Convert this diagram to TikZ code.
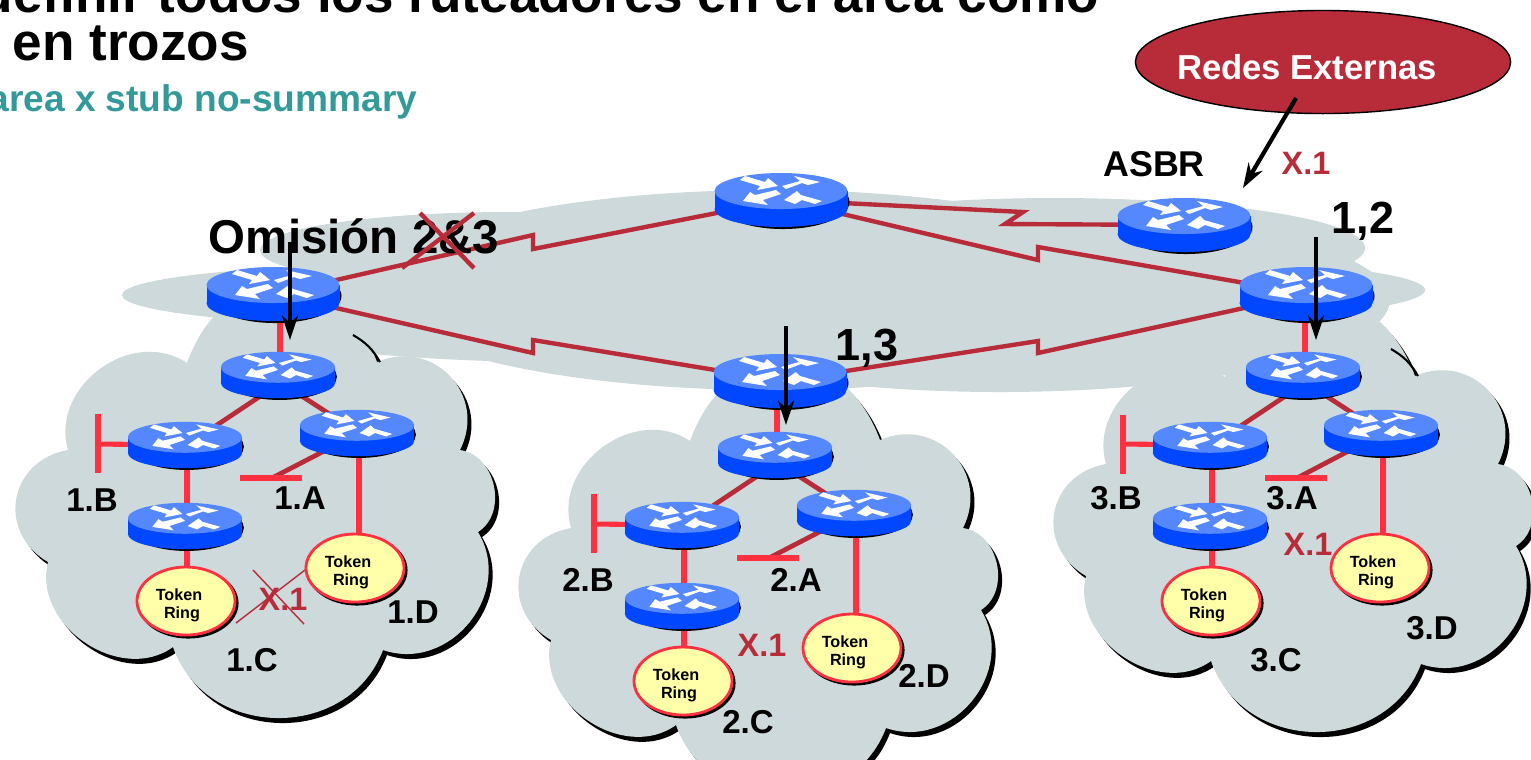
\documentclass[tikz,border=0pt]{standalone}
\usepackage{fontspec}
\setmainfont{Liberation Sans}
\usetikzlibrary{arrows.meta,shapes.geometric,shadows,backgrounds}

\definecolor{areagray}{HTML}{CED9DB}
\definecolor{serialred}{HTML}{B82C3A}
\definecolor{lanred}{HTML}{FF3040}
\definecolor{routertop}{HTML}{5588FF}
\definecolor{routerside}{HTML}{0047FF}
\definecolor{ringyellow}{HTML}{FFFFAA}
\definecolor{stubteal}{HTML}{339999}

% one router: name, x, y, size
\newcommand{\router}[4]{
  \node[routerspot] (#1) at (#2,#3) {};
  \begin{scope}[shift={(#2-2,#3)},scale=#4]
    \fill[black] (2,2) ellipse [x radius=66.5,y radius=27];
    \fill[routerside] (-66.5,-9) rectangle (66.5,9);
    \fill[routerside] (0,9) ellipse [x radius=66.5,y radius=18];
    \fill[routertop] (0,-9) ellipse [x radius=66.5,y radius=18];
    \begin{scope}[shift={(0,-9)}]
      \fill[white] (-41,-11) -- (-36,-15) -- (-16,-9) -- (-13,-13) -- (-3,-5) -- (-24,-1) -- (-21,-5) -- cycle;
      \fill[white] (1,-5) -- (19,-10) -- (13,-15) -- (39,-9) -- (27,-6) -- (21,-8) -- (5,-2) -- cycle;
      \fill[white] (-38,10) -- (-31,1) -- (-26,4) -- (-5,-1) -- (0,3) -- (-18,9) -- (-13,14) -- cycle;
      \fill[white] (3,9) -- (16,0) -- (20,4) -- (41,10) -- (34,13) -- (21,9) -- (14,13) -- cycle;
    \end{scope}
  \end{scope}
}

% outline of an area, taken at the position of the first one
\newcommand{\cloudpath}{
  (187,363) to[lobe=1.5] (377,362) to[lobe=1.3] (460,450) to[lobe=1.1] (478,532)
  to[lobe=1.2] (383,650) to[lobe=1.2] (173,647) to[lobe=1.1] (48,562)
  to[lobe=1.35] (68,450) to[lobe=1.15] (187,363) -- cycle
}

\begin{document}
\begin{tikzpicture}[x=0.01cm,y=-0.01cm]

\tikzset{lobe/.style = {bend left=70,looseness=#1}}
\tikzset{routerspot/.style = {shape=rectangle,inner sep=0pt,minimum width=1.1cm,minimum height=0.45cm}}
\tikzset{ring/.style = {shape=ellipse,inner sep=0pt,minimum width=0.98cm,minimum height=0.68cm,draw=lanred,line width=0.8pt,fill=ringyellow,align=center,font=\bfseries\fontsize{4.6}{5.2}\selectfont,copy shadow={shadow xshift=0.6pt,shadow yshift=-0.6pt,draw=black,fill=black}}}
\tikzset{serial/.style = {draw=serialred,line width=1.25pt}}
\tikzset{trunk/.style = {draw=serialred,line width=1.35pt}}
\tikzset{lan/.style = {draw=lanred,line width=1.45pt}}
\tikzset{netarrow/.style = {-{Stealth[length=7pt,width=4.6pt]},line width=1.2pt}}
\tikzset{arealabel/.style = {inner sep=0pt,font=\bfseries\fontsize{9.4}{10}\selectfont}}
\tikzset{biglabel/.style = {inner sep=0pt,font=\bfseries\fontsize{13.5}{14}\selectfont}}
\tikzset{xlabel/.style = {inner sep=0pt,text=serialred,font=\bfseries\fontsize{9.2}{10}\selectfont}}
\newcommand{\ringtext}{\rule{0pt}{5.6pt}Token\hspace*{1.4mm}\\Ring\hspace*{0.8mm}}

\useasboundingbox (0,0) rectangle (1531,759);
\clip (0,0) rectangle (1531,759);

\begin{pgfonlayer}{background}
% shadows of the areas
\fill[black,shift={(4,5)}] \cloudpath;
\fill[black,shift={(507,83)}] \cloudpath;
\fill[black,shift={(1042,19)}] \cloudpath;

% backbone
\fill[areagray] (420,295) ellipse [x radius=298,y radius=31];
\fill[areagray] (510,250) ellipse [x radius=250,y radius=38];
\fill[areagray] (790,240) ellipse [x radius=210,y radius=50];
\fill[areagray] (1055,248) ellipse [x radius=310,y radius=50];
\fill[areagray] (1100,290) ellipse [x radius=325,y radius=33];
\fill[areagray] (770,290) ellipse [x radius=400,y radius=100];
\fill[areagray] (1000,300) ellipse [x radius=390,y radius=92];
\fill[areagray] (560,310) ellipse [x radius=350,y radius=52];

% areas
\fill[areagray] \cloudpath;
\fill[areagray,shift={(503,78)}] \cloudpath;
\fill[areagray,shift={(1038,14)}] \cloudpath;

% rest of the shadow where it shows on the backbone
\draw[line width=0.6pt] (353,335) to[bend left=15] (380,362);
\draw[line width=0.6pt,shift={(1038,14)}] (353,335) to[bend left=15] (380,362);
\end{pgfonlayer}

% title
\node[inner sep=0pt,anchor=base east,font=\bfseries\fontsize{15.1}{16}\selectfont] (title) at (1100,12) {definir todos los ruteadores en el área como};
\node[inner sep=0pt,anchor=base west,font=\bfseries\fontsize{15.1}{16}\selectfont] (title2) at (12,60) {en trozos};
\node[inner sep=0pt,anchor=base east,text=stubteal,font=\bfseries\fontsize{10.55}{11}\selectfont] (command) at (418,111) {area x stub no-summary};

% external networks
\node[shape=ellipse,inner sep=0pt,minimum width=3.75cm,minimum height=1.03cm,draw=black,line width=0.4pt,fill=serialred] (ext) at (1323,62) {};
\node[inner sep=0pt,text=white,font=\bfseries\fontsize{9.85}{10}\selectfont] (extlabel) at (1307,67) {Redes Externas};

% backbone routers
\router{left}{275}{294}{1}
\router{top}{783}{200}{1}
\router{asbr}{1186}{225}{1}
\router{right}{1308}{294}{1}
\router{bottom}{782}{381}{1}

% routers and rings of area 1
\router{t1}{280}{375}{0.86}
\router{b1}{187}{445}{0.86}
\router{a1}{359}{433}{0.86}
\router{l1}{187}{526}{0.86}
\node[ring] (c1) at (186,601) {\ringtext};
\node[ring] (d1) at (355,568) {\ringtext};

% routers and rings of area 2
\router{t2}{777}{455}{0.86}
\router{b2}{684}{525}{0.86}
\router{a2}{856}{513}{0.86}
\router{l2}{684}{606}{0.86}
\node[ring] (c2) at (683,681) {\ringtext};
\node[ring] (d2) at (852,648) {\ringtext};

% routers and rings of area 3
\router{t3}{1305}{375}{0.86}
\router{b3}{1212}{445}{0.86}
\router{a3}{1383}{433}{0.86}
\router{l3}{1212}{526}{0.86}
\node[ring] (c3) at (1211,601) {\ringtext};
\node[ring] (d3) at (1380,568) {\ringtext};

% ends of the stub segments
\coordinate (btop1) at (98,414);
\coordinate (bbot1) at (98,473);
\coordinate (bmid1) at (98,444);
\coordinate (awest1) at (240,478);
\coordinate (aeast1) at (302,478);
\coordinate (amid1) at (272,478);
\coordinate (btop2) at (594,494);
\coordinate (bbot2) at (594,553);
\coordinate (bmid2) at (594,524);
\coordinate (awest2) at (737,558);
\coordinate (aeast2) at (799,558);
\coordinate (amid2) at (769,558);
\coordinate (btop3) at (1123,415);
\coordinate (bbot3) at (1123,474);
\coordinate (bmid3) at (1123,444);
\coordinate (awest3) at (1265,478);
\coordinate (aeast3) at (1327,478);
\coordinate (amid3) at (1297,478);

% bends of the serial links
\coordinate (zig1) at (533,235);
\coordinate (zag1) at (533,249);
\coordinate (zig2) at (533,353);
\coordinate (zag2) at (533,340);
\coordinate (zig3) at (1023,212);
\coordinate (zag3) at (1005,224);
\coordinate (zig4) at (1038,260);
\coordinate (zag4) at (1038,247);
\coordinate (zig5) at (1038,341);
\coordinate (zag5) at (1038,353);

\begin{pgfonlayer}{background}
% serial links
\draw[serial] (left.center) -- (zig1) -- (zag1) -- (top.center);
\draw[serial] (left.center) -- (zig2) -- (zag2) -- (bottom.center);
\draw[serial] (top.center) -- (zig3) -- (zag3) -- (asbr.center);
\draw[serial] (top.center) -- (zig4) -- (zag4) -- (right.center);
\draw[serial] (bottom.center) -- (zig5) -- (zag5) -- (right.center);

% links of area 1
\draw[lan] (t1.center) -- (t1|-left);
\draw[trunk] ([xshift=1.2mm]t1.center) -- (b1.center);
\draw[trunk] ([xshift=-1.1mm]t1.center) -- (a1.center);
\draw[trunk] (a1.center) -- (amid1);
\draw[lan] (awest1) -- (aeast1);
\draw[lan] (btop1) -- (bbot1);
\draw[lan] (bmid1) -- (b1.center);
\draw[lan] (b1.center) -- (l1.center);
\draw[lan] (l1.center) -- (l1|-c1);
\draw[lan] (a1.center) -- (a1|-d1);

% links of area 2
\draw[lan] (t2.center) -- (t2|-bottom);
\draw[trunk] ([xshift=1.2mm]t2.center) -- (b2.center);
\draw[trunk] ([xshift=-1.1mm]t2.center) -- (a2.center);
\draw[trunk] (a2.center) -- (amid2);
\draw[lan] (awest2) -- (aeast2);
\draw[lan] (btop2) -- (bbot2);
\draw[lan] (bmid2) -- (b2.center);
\draw[lan] (b2.center) -- (l2.center);
\draw[lan] (l2.center) -- (l2|-c2);
\draw[lan] (a2.center) -- (a2|-d2);

% links of area 3
\draw[lan] (t3.center) -- (t3|-right);
\draw[trunk] ([xshift=1.2mm]t3.center) -- (b3.center);
\draw[trunk] ([xshift=-1.1mm]t3.center) -- (a3.center);
\draw[trunk] (a3.center) -- (amid3);
\draw[lan] (awest3) -- (aeast3);
\draw[lan] (btop3) -- (bbot3);
\draw[lan] (bmid3) -- (b3.center);
\draw[lan] (b3.center) -- (l3.center);
\draw[lan] (l3.center) -- (l3|-c3);
\draw[lan] (a3.center) -- (a3|-d3);
\end{pgfonlayer}

% labels
\node[arealabel] (lb1) at (92,500) {1.B};
\node[arealabel] (la1) at (300,498) {1.A};
\node[arealabel] (lc1) at (252,660) {1.C};
\node[arealabel] (ld1) at (413,612) {1.D};
\node[arealabel] (lb2) at (588,580) {2.B};
\node[arealabel] (la2) at (796,580) {2.A};
\node[arealabel] (lc2) at (748,722) {2.C};
\node[arealabel] (ld2) at (924,676) {2.D};
\node[arealabel] (lb3) at (1116,498) {3.B};
\node[arealabel] (la3) at (1292,498) {3.A};
\node[arealabel] (lc3) at (1276,660) {3.C};
\node[arealabel] (ld3) at (1432,628) {3.D};
\node[xlabel] (x1) at (283,599) {X.1};
\node[xlabel] (x2) at (762,645) {X.1};
\node[xlabel] (x3) at (1308,544) {X.1};
\node[xlabel] (xext) at (1306,163) {X.1};
\node[arealabel,font=\bfseries\fontsize{10.2}{11}\selectfont] (lasbr) at (1154,164) {ASBR};
\node[biglabel] (omision) at (354,236) {Omisión 2\&3};
\node[biglabel,font=\bfseries\fontsize{12.8}{13}\selectfont] (l12) at (1363,221) {1,2};
\node[biglabel,font=\bfseries\fontsize{12.8}{13}\selectfont] (l13) at (867,348) {1,3};

% crossed out
\coordinate (crossa) at (402,268);
\coordinate (crossb) at (474,213);
\coordinate (crossc) at (420,213);
\coordinate (crossd) at (474,268);
\draw[serial] (crossa) to (crossb);
\draw[serial] (crossc) to (crossd);
\coordinate (xcrossa) at (236,623);
\coordinate (xcrossb) at (305,570);
\coordinate (xcrossc) at (253,570);
\coordinate (xcrossd) at (304,624);
\draw[serialred,line width=0.4pt] (xcrossa) to (xcrossb);
\draw[serialred,line width=0.4pt] (xcrossc) to (xcrossd);

% arrows
\coordinate (arrowa) at (290,242);
\coordinate (arrowb) at (290,340);
\coordinate (arrowc) at (1316,237);
\coordinate (arrowd) at (1316,340);
\coordinate (arrowe) at (786,326);
\coordinate (arrowf) at (786,425);
\coordinate (extfrom) at (1296,98);
\coordinate (extto) at (1243,188);
\draw[netarrow] (arrowa) to (arrowb);
\draw[netarrow] (arrowc) to (arrowd);
\draw[netarrow] (arrowe) to (arrowf);
\draw[netarrow] (extfrom) to (extto);

\end{tikzpicture}
\end{document}
